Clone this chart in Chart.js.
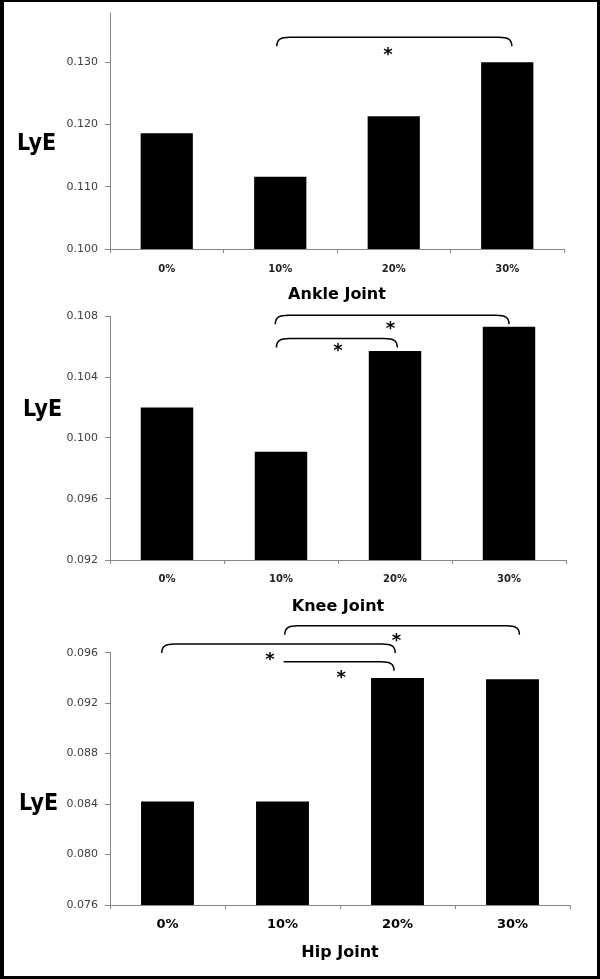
<!DOCTYPE html>
<html lang="en">
<head>
  <meta charset="UTF-8">
  <title>LyE by joint</title>
  <script src="https://cdn.jsdelivr.net/npm/chart.js"></script>
  <style>
    body { margin: 0; background: #000; }
    #page { position: relative; width: 600px; height: 979px; }
    #paper { position: absolute; left: 4px; top: 2px; width: 593px; height: 974px; background: #fff; }
    canvas { position: absolute; left: 0; }
    .lye {
      position: absolute; transform: translateY(-50%);
      font: bold 23px "Liberation Sans Narrow", "DejaVu Sans Condensed", sans-serif;
      line-height: 1; color: #000;
    }
  </style>
</head>
<body>
  <div id="page">
    <div id="paper"></div>
    <canvas id="ankle" width="600" height="312" style="top:0px"></canvas>
    <canvas id="knee" width="600" height="322" style="top:300px"></canvas>
    <canvas id="hip" width="600" height="360" style="top:615px"></canvas>
    <div class="lye" style="left:17px; top:142px">LyE</div>
    <div class="lye" style="left:23px; top:408px">LyE</div>
    <div class="lye" style="left:19px; top:802px">LyE</div>
  </div>

  <script>
    // data
    const loads = ['0%', '10%', '20%', '30%'];
    const ankleLyE = [0.1186, 0.1116, 0.1213, 0.1300];
    const kneeLyE = [0.1020, 0.0991, 0.1057, 0.1073];
    const hipLyE = [0.0842, 0.0842, 0.0940, 0.0939];
    const ankleTicks = [0.100, 0.110, 0.120, 0.130];
    const kneeTicks = [0.092, 0.096, 0.100, 0.104, 0.108];
    const hipTicks = [0.076, 0.080, 0.084, 0.088, 0.092, 0.096];

    // significance brackets: from/to category index, level in LyE units, star position
    const ankleBrackets = [
      { from: 0.97, to: 3.04, level: 0.1340, starX: 1.95, starY: 0.1316, curlLeft: true }
    ];
    const kneeBrackets = [
      { from: 0.95, to: 3.00, level: 0.10805, starX: 1.96, starY: 0.10732, curlLeft: true },
      { from: 0.96, to: 2.02, level: 0.10652, starX: 1.50, starY: 0.10588, curlLeft: true }
    ];
    const hipBrackets = [
      { from: 1.02, to: 3.06, level: 0.09814, starX: 1.99, starY: 0.09714, curlLeft: true },
      { from: -0.05, to: 1.98, level: 0.09669, starX: 0.89, starY: 0.09568, curlLeft: true },
      { from: 1.01, to: 1.97, level: 0.09529, starX: 1.51, starY: 0.09423, curlLeft: false }
    ];

    const bracketPlugin = {
      id: 'sigBrackets',
      afterDatasetsDraw(chart, args, opts) {
        const ctx = chart.ctx;
        const xs = chart.scales.x, ys = chart.scales.y;
        ctx.save();
        ctx.strokeStyle = '#000';
        ctx.lineWidth = 1.5;
        ctx.fillStyle = '#000';
        (opts.items || []).forEach(b => {
          const x1 = xs.getPixelForValue(b.from);
          const x2 = xs.getPixelForValue(b.to);
          const y = ys.getPixelForValue(b.level);
          const r = 13, drop = 9;
          ctx.beginPath();
          if (b.curlLeft) {
            ctx.moveTo(x1, y + drop);
            ctx.bezierCurveTo(x1, y + 2, x1 + 4, y, x1 + r, y);
          } else {
            ctx.moveTo(x1, y);
          }
          ctx.lineTo(x2 - r, y);
          ctx.bezierCurveTo(x2 - 4, y, x2, y + 2, x2, y + drop);
          ctx.stroke();
          ctx.font = 'bold 18px "DejaVu Sans"';
          ctx.textAlign = 'center';
          ctx.textBaseline = 'alphabetic';
          ctx.fillText('*', xs.getPixelForValue(b.starX), ys.getPixelForValue(b.starY) + 8);
        });
        ctx.restore();
      }
    };

    const makeChart = (id, title, values, ticks, brackets, cfg) => {
      const canvas = document.getElementById(id);
      return new Chart(canvas, {
        type: 'bar',
        data: {
          labels: loads,
          datasets: [{
            data: values,
            backgroundColor: '#000',
            borderWidth: 0,
            barPercentage: 0.46,
            categoryPercentage: 1
          }]
        },
        options: {
          responsive: false,
          animation: false,
          devicePixelRatio: 1,
          layout: { padding: { top: cfg.top, right: cfg.right, bottom: 0, left: 0 } },
          plugins: {
            legend: { display: false },
            tooltip: { enabled: false },
            sigBrackets: { items: brackets }
          },
          scales: {
            x: {
              afterFit: s => { s.height = canvas.height - cfg.areaBottom; },
              grid: { drawOnChartArea: false, offset: true, tickLength: 4, color: '#888' },
              border: { color: '#888' },
              ticks: {
                padding: cfg.tickPad,
                color: cfg.tickColor,
                font: { family: 'DejaVu Sans', weight: 'bold', size: cfg.tickSize }
              },
              title: {
                display: true,
                text: title,
                color: '#000',
                padding: { top: 0, bottom: cfg.titlePad },
                font: { family: 'DejaVu Sans', weight: 'bold', size: 16 }
              }
            },
            y: {
              min: cfg.min,
              max: cfg.max,
              afterFit: s => { s.width = 110; },
              afterBuildTicks: s => { s.ticks = ticks.map(v => ({ value: v })); },
              grid: { drawOnChartArea: false, tickLength: 5, color: '#888' },
              border: { color: '#888' },
              ticks: {
                padding: 7,
                color: '#404040',
                font: { family: 'DejaVu Sans', size: 11 },
                callback: v => Number(v).toFixed(3)
              }
            }
          }
        },
        plugins: [bracketPlugin]
      });
    };

    makeChart('ankle', 'Ankle Joint', ankleLyE, ankleTicks, ankleBrackets,
      { top: 13, right: 36, areaBottom: 249, min: 0.100, max: 0.1378, tickPad: 10, tickSize: 10, tickColor: '#222', titlePad: 7.4 });
    makeChart('knee', 'Knee Joint', kneeLyE, kneeTicks, kneeBrackets,
      { top: 16, right: 34, areaBottom: 260, min: 0.092, max: 0.108, tickPad: 9, tickSize: 10, tickColor: '#222', titlePad: 5.1 });
    makeChart('hip', 'Hip Joint', hipLyE, hipTicks, hipBrackets,
      { top: 37.7, right: 30, areaBottom: 290, min: 0.076, max: 0.096, tickPad: 8, tickSize: 13, tickColor: '#000', titlePad: 12.7 });
  </script>
</body>
</html>
